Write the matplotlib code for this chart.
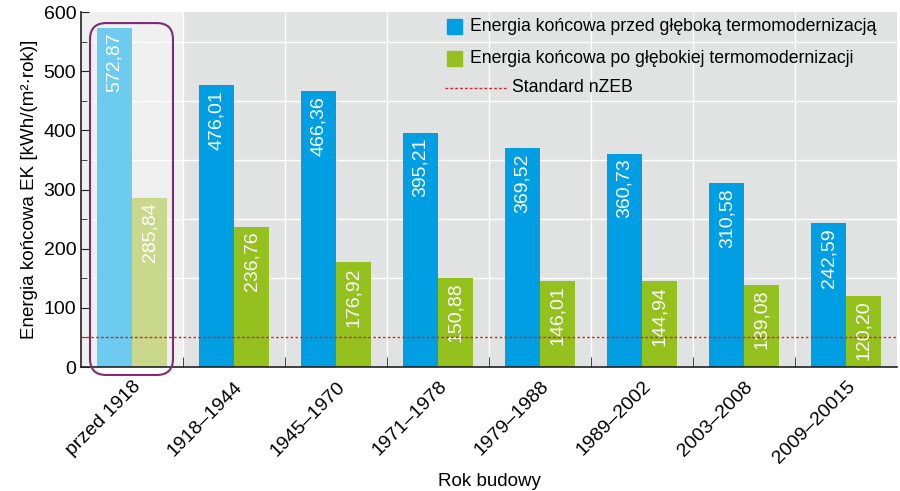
import numpy as np
import matplotlib.pyplot as plt
from matplotlib.patches import FancyBboxPatch, Rectangle

plt.rcParams['font.family'] = ['Liberation Sans Narrow', 'Liberation Sans', 'DejaVu Sans']

# dane
lata = ['przed 1918', '1918–1944', '1945–1970', '1971–1978', '1979–1988',
        '1989–2002', '2003–2008', '2009–20015']
przed = [572.87, 476.01, 466.36, 395.21, 369.52, 360.73, 310.58, 242.59]
po = [285.84, 236.76, 176.92, 150.88, 146.01, 144.94, 139.08, 120.20]
nzeb = 50

niebieski = '#009fe3'
zielony = '#95c11f'
niebieski_jasny = '#6ccbef'
zielony_jasny = '#c9d88a'
czerwony = '#d0262f'

fig = plt.figure(figsize=(9, 4.91), dpi=100)
ax = fig.add_axes([0.09, 0.2525, 0.907, 0.723])
ax.set_facecolor('#e1e2e2')

x = np.arange(len(lata))
w = 0.343
kol_przed = [niebieski_jasny] + [niebieski] * (len(lata) - 1)
kol_po = [zielony_jasny] + [zielony] * (len(lata) - 1)
ax.axvspan(-0.5, 0.5, color='#efefef', zorder=0.2, lw=0)
ax.bar(x - w / 2, przed, w, color=kol_przed, zorder=2)
ax.bar(x + w / 2, po, w, color=kol_po, zorder=2)

# etykiety wartosci
for xi, v in zip(x, przed):
    ax.text(xi - w / 2, v - 8, f'{v:.2f}'.replace('.', ','), rotation=90,
            ha='center', va='top', color='white', fontsize=14,
            family=['Liberation Sans', 'DejaVu Sans'], zorder=3)
for xi, v in zip(x, po):
    ax.text(xi + w / 2, v - 8, f'{v:.2f}'.replace('.', ','), rotation=90,
            ha='center', va='top', color='white', fontsize=14,
            family=['Liberation Sans', 'DejaVu Sans'], zorder=3)

ax.axhline(nzeb, color=czerwony, lw=1, ls=(0, (2, 1.5)), zorder=4)

ax.set_xlim(-0.5, len(lata) - 0.5)
ax.set_ylim(0, 600)
ax.set_yticks(np.arange(0, 601, 100))
ax.set_yticks(np.arange(0, 601, 50), minor=True)
ax.set_xticks(x)
ax.set_xticks(x[:-1] + 0.5, minor=True)
ax.set_xticklabels(lata, rotation=45, ha='right', rotation_mode='anchor', fontsize=14)
ax.tick_params(axis='x', which='major', length=0, pad=8)
ax.tick_params(axis='x', which='minor', direction='in', length=7, color='#222222')
ax.tick_params(axis='y', which='major', direction='in', length=6, labelsize=14, color='#222222')
ax.tick_params(axis='y', which='minor', direction='in', length=4, color='#222222')

ax.grid(True, which='minor', color='white', lw=1)
ax.set_axisbelow(True)
for s in ['top', 'right']:
    ax.spines[s].set_visible(False)
for s in ['left', 'bottom']:
    ax.spines[s].set_color('#222222')
    ax.spines[s].set_linewidth(1.2)

ax.set_ylabel('Energia końcowa EK [kWh/(m²·rok)]', fontsize=13.5, labelpad=4)
ax.set_xlabel('Rok budowy', fontsize=13.5, labelpad=4)

# legenda
wpisy = [('Energia końcowa przed głęboką termomodernizacją', niebieski, 0.958),
         ('Energia końcowa po głębokiej termomodernizacji', zielony, 0.870)]
for txt, c, yy in wpisy:
    ax.add_patch(Rectangle((0.4485, yy - 0.021), 0.0184, 0.042, color=c,
                           transform=ax.transAxes, zorder=5))
    ax.text(0.4767, yy, txt, transform=ax.transAxes, va='center', fontsize=12.7, zorder=5)
ax.plot([0.446, 0.522], [0.786, 0.786], color=czerwony, lw=1, ls=(0, (2, 1.5)),
        transform=ax.transAxes, zorder=5)
ax.text(0.528, 0.786, 'Standard nZEB', transform=ax.transAxes, va='center', fontsize=12.7, zorder=5)

# ramka wokol pierwszej grupy
ramka = FancyBboxPatch((0.1, 0.2363), 0.0922, 0.7167,
                       boxstyle='round,pad=0,rounding_size=0.018',
                       mutation_aspect=900 / 491, transform=fig.transFigure,
                       fill=False, ec='#7a2c73', lw=1.5, zorder=10)
fig.patches.append(ramka)

fig.savefig('out.png', dpi=100)
